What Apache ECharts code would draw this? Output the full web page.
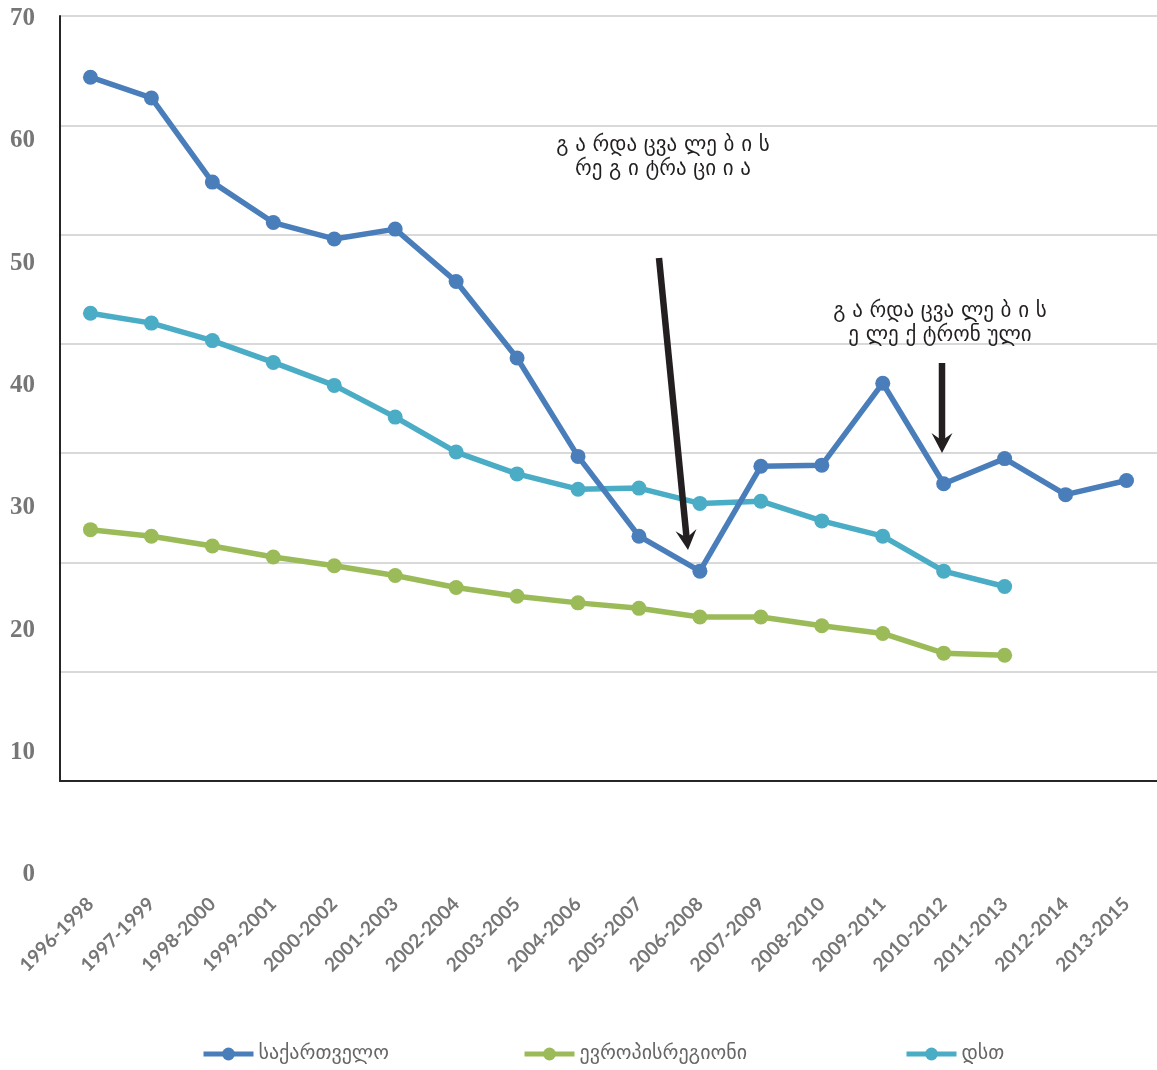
<!DOCTYPE html>
<html>
<head>
<meta charset="utf-8">
<title>ჩვილთა სიკვდილიანობა</title>
<script src="https://cdn.jsdelivr.net/npm/echarts@6/dist/echarts.min.js"></script>
<style>
  html, body { margin: 0; padding: 0; background: #ffffff; }
  #chart { width: 1157px; height: 1070px; }
</style>
</head>
<body>
<div id="chart"></div>
<script>
// Three-year periods
const periods = [
  '1996-1998', '1997-1999', '1998-2000', '1999-2001', '2000-2002', '2001-2003',
  '2002-2004', '2003-2005', '2004-2006', '2005-2007', '2006-2008', '2007-2009',
  '2008-2010', '2009-2011', '2010-2012', '2011-2013', '2012-2014', '2013-2015'
];

// Series names
const nameGeorgia = 'საქართველო';
const nameEurope = 'ევროპისრეგიონი';
const nameCis = 'დსთ';

// Rates per period
const georgia = [64.4, 62.5, 54.8, 51.1, 49.6, 50.5, 45.7, 38.7, 29.7, 22.4, 19.2, 28.8, 28.9, 36.4, 27.2, 29.5, 26.2, 27.5];
const europeRegion = [23.0, 22.4, 21.5, 20.5, 19.7, 18.8, 17.7, 16.9, 16.3, 15.8, 15.0, 15.0, 14.2, 13.5, 11.7, 11.5];
const cis = [42.8, 41.9, 40.3, 38.3, 36.2, 33.3, 30.1, 28.1, 26.7, 26.8, 25.4, 25.6, 23.8, 22.4, 19.2, 17.8];

// Value axis ticks
const yMin = 0, yMax = 70, yStep = 10;

// Notes on the chart
const noteRegistration = 'გ ა რდა ცვა ლე ბ ი ს\nრე გ ი ტრა ცი ი ა';
const noteElectronic = 'გ ა რდა ცვა ლე ბ ი ს\nე ლე ქ ტრონ ული';

const COLORS = { georgia: '#4a7ebb', europe: '#9bbb59', cis: '#4bacc6' };
const INK = '#231f20';
const AXIS_TEXT = '#767676';

function lineSeries(name, data, color, z) {
  return {
    name: name,
    type: 'line',
    xAxisIndex: 0,
    yAxisIndex: 0,
    data: data,
    symbol: 'circle',
    symbolSize: 15,
    z: z,
    lineStyle: { width: 5.5, color: color },
    itemStyle: { color: color },
    emphasis: { disabled: true },
    animation: false
  };
}

function legendFor(name, left) {
  return {
    data: [name],
    left: left,
    top: 1044,
    padding: 0,
    itemWidth: 50,
    itemHeight: 16,
    itemGap: 6,
    lineStyle: { width: 5 },
    textStyle: { color: '#666666', fontFamily: 'DejaVu Sans', fontSize: 20 },
    selectedMode: false
  };
}

function arrowHead(tip, from, len, half) {
  const dx = tip[0] - from[0], dy = tip[1] - from[1];
  const L = Math.sqrt(dx * dx + dy * dy);
  const ux = dx / L, uy = dy / L, nx = -uy, ny = ux;
  const bx = tip[0] - len * ux, by = tip[1] - len * uy;
  return [
    tip,
    [bx + half * nx, by + half * ny],
    [tip[0] - len * 0.62 * ux, tip[1] - len * 0.62 * uy],
    [bx - half * nx, by - half * ny]
  ];
}

const chart = echarts.init(document.getElementById('chart'), null, { renderer: 'canvas' });

const arrow1From = [659, 258], arrow1Tip = [688, 550];
const arrow2From = [942, 363], arrow2Tip = [942, 453];

chart.setOption({
  backgroundColor: '#ffffff',
  animation: false,
  grid: [
    // plotting area
    { left: 60, right: 0, top: 16, bottom: 289, containLabel: false },
    // value labels down the left side
    { left: 60, right: 0, top: 18.5, bottom: 195, containLabel: false }
  ],
  xAxis: [
    {
      type: 'category',
      gridIndex: 0,
      data: periods,
      boundaryGap: true,
      axisLine: { show: true, lineStyle: { color: '#262626', width: 2 } },
      axisTick: { show: false },
      axisLabel: {
        rotate: 45,
        margin: 120,
        interval: 0,
        color: AXIS_TEXT,
        fontFamily: 'Lato',
        fontWeight: 'bold',
        fontSize: 19
      },
      splitLine: { show: false }
    },
    {
      type: 'category',
      gridIndex: 1,
      data: periods,
      show: false
    }
  ],
  yAxis: [
    {
      type: 'value',
      gridIndex: 0,
      min: yMin,
      max: yMax,
      interval: yStep,
      axisLine: { show: true, lineStyle: { color: '#262626', width: 2 } },
      axisTick: { show: false },
      axisLabel: { show: false },
      splitLine: { show: true, lineStyle: { color: '#d9d9d9', width: 2 } }
    },
    {
      type: 'value',
      gridIndex: 1,
      min: yMin,
      max: yMax,
      interval: yStep,
      axisLine: { show: false },
      axisTick: { show: false },
      splitLine: { show: false },
      axisLabel: {
        margin: 25,
        color: AXIS_TEXT,
        fontFamily: 'Liberation Serif',
        fontWeight: 'bold',
        fontSize: 25
      }
    }
  ],
  legend: [
    legendFor(nameGeorgia, 201),
    legendFor(nameEurope, 522),
    legendFor(nameCis, 904)
  ],
  series: [
    lineSeries(nameEurope, europeRegion, COLORS.europe, 2),
    lineSeries(nameCis, cis, COLORS.cis, 3),
    lineSeries(nameGeorgia, georgia, COLORS.georgia, 4)
  ],
  graphic: [
    {
      type: 'text',
      x: 663,
      y: 134,
      z: 10,
      style: {
        text: noteRegistration,
        fill: INK,
        font: '500 21px "DejaVu Sans"',
        align: 'center',
        verticalAlign: 'top',
        lineHeight: 24
      }
    },
    {
      type: 'text',
      x: 940,
      y: 300,
      z: 10,
      style: {
        text: noteElectronic,
        fill: INK,
        font: '500 21px "DejaVu Sans"',
        align: 'center',
        verticalAlign: 'top',
        lineHeight: 24
      }
    },
    {
      type: 'line',
      z: 10,
      shape: { x1: arrow1From[0], y1: arrow1From[1], x2: 686.6, y2: 538 },
      style: { stroke: INK, lineWidth: 6.5 }
    },
    {
      type: 'polygon',
      z: 10,
      shape: { points: arrowHead(arrow1Tip, arrow1From, 20, 10.5) },
      style: { fill: INK }
    },
    {
      type: 'line',
      z: 10,
      shape: { x1: arrow2From[0], y1: arrow2From[1], x2: 942, y2: 441 },
      style: { stroke: INK, lineWidth: 6.5 }
    },
    {
      type: 'polygon',
      z: 10,
      shape: { points: arrowHead(arrow2Tip, arrow2From, 20, 10.5) },
      style: { fill: INK }
    }
  ]
});
</script>
</body>
</html>
